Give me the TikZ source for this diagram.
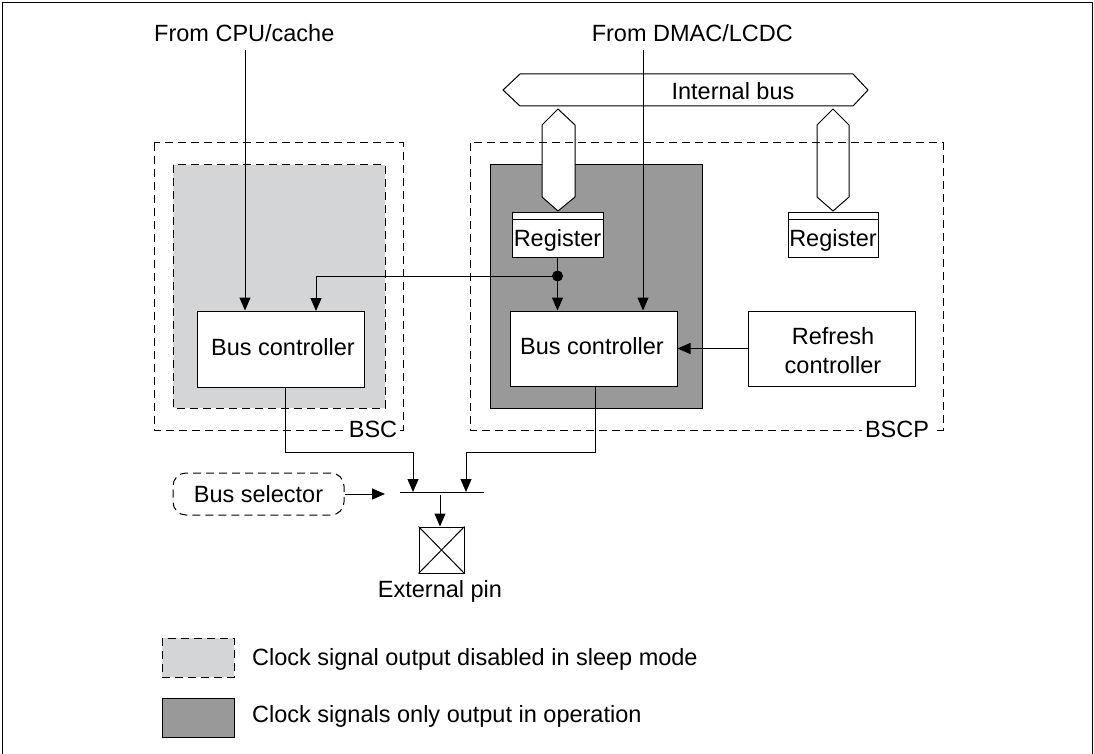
\documentclass[tikz,border=0pt]{standalone}
\usepackage{fontspec}
\setmainfont{Liberation Sans}
\usetikzlibrary{arrows.meta}
\definecolor{lightg}{HTML}{D4D5D7}
\definecolor{darkg}{HTML}{999999}
\begin{document}
\begin{tikzpicture}[x=1pt,y=-1pt,
  every node/.style={font=\fontsize{23.5pt}{28pt}\selectfont, inner sep=0pt},
  ln/.style={line width=1pt},
  arr/.style={line width=1pt, -{Triangle[length=13pt,width=11pt]}},
  dsh/.style={line width=1pt, dash pattern=on 8pt off 5pt},
  box/.style={draw, line width=1pt, fill=white, inner sep=0pt},
  txt/.style={anchor=base, inner sep=0pt},
  busshape/.style={draw, line width=1pt, fill=white, line join=miter}]
\useasboundingbox (0,0) rectangle (1094,754);
\draw[line width=1.5pt] (2.5,754) -- (2.5,2.5) -- (1092.5,2.5) -- (1092.5,754);

% BSC
\draw[dsh] (154,143) rectangle (403,430);
\draw[dsh, fill=lightg] (173,165) rectangle (385,408);
% BSCP dark area
\draw[ln, fill=darkg] (490,165) rectangle (702,408);

% internal bus
\draw[busshape] (503,90) -- (520,74) -- (853,74) -- (868,90) -- (853,106) -- (520,106) -- cycle;
\node[txt] (ibus) at (733,100) {Internal bus};
\draw[busshape] (558,109) -- (575,125) -- (575,197) -- (558,211) -- (542,197) -- (542,125) -- cycle;
\draw[busshape] (833,109) -- (849,125) -- (849,197) -- (833,211) -- (817,197) -- (817,125) -- cycle;

% BSCP outline
\draw[dsh] (470,143) rectangle (943,430);

% registers
\node[box, minimum width=91pt, minimum height=45pt] (reg1) at (557.5,234.5) {};
\draw[ln] ([yshift=-8pt]reg1.north west) -- ([yshift=-8pt]reg1.north east);
\node[txt] (reg1t) at (557.5,246) {Register};
\node[box, minimum width=90pt, minimum height=45pt] (reg2) at (833,234.5) {};
\draw[ln] ([yshift=-8pt]reg2.north west) -- ([yshift=-8pt]reg2.north east);
\node[txt] (reg2t) at (833,246) {Register};

% controllers
\node[box, minimum width=167pt, minimum height=76pt] (bc1) at (280.5,349) {};
\node[txt] (bc1t) at (283,355) {Bus controller};
\node[box, minimum width=167pt, minimum height=75pt] (bc2) at (593.5,348.5) {};
\node[txt] (bc2t) at (592,354) {Bus controller};
\node[box, minimum width=167pt, minimum height=75pt] (rc) at (831.5,348.5) {};
\node[txt] (rct1) at (833,344) {Refresh};
\node[txt] (rct2) at (833,373) {controller};

% labels
\node[txt, fill=white, inner xsep=3pt] (bsclbl) at (373,437) {BSC};
\node[txt, fill=white, inner xsep=3pt] (bscplbl) at (897,437) {BSCP};

% sources
\node[anchor=base west] (cpu) at (154,42) {From CPU/cache};
\node[anchor=base east] (dmac) at (793,42) {From DMAC/LCDC};
\coordinate (cpuin) at (245,50);
\draw[arr] (cpuin) -- (cpuin |- bc1.north);
\coordinate (dmain) at (643,50);
\draw[arr] (dmain) -- (dmain |- bc2.north);

% register distribution
\coordinate (dot) at (557.5,276);
\coordinate (bc1in) at (316,311);
\draw[ln] (reg1.south) -- (dot);
\draw[arr] (dot) -- (dot |- bc2.north);
\draw[arr] (dot) -| (bc1in);
\fill (dot) circle (5.5pt);
\draw[arr] (rc.west) -- (bc2.east);

% outputs
\coordinate (j1) at (413,452);
\coordinate (j2) at (466,452);
\coordinate (barL) at (400,492);
\coordinate (barR) at (484,492);
\draw[arr] ([xshift=4.5pt]bc1.south) |- (j1) -- (j1 |- barL);
\draw[arr] ([xshift=1.5pt]bc2.south) |- (j2) -- (j2 |- barL);
\draw[ln] (barL) -- (barR);

% bus selector
\node[draw, dsh, rounded corners=13pt, minimum width=171pt, minimum height=42pt] (bsel) at (258.5,494) {Bus selector};
\coordinate (selin) at (385,494);
\draw[arr] (bsel.east) -- (selin);

% external pin
\node[box, minimum width=45pt, minimum height=46pt] (pin) at (441.5,550) {};
\draw[ln] (pin.north west) -- (pin.south east) (pin.north east) -- (pin.south west);
\coordinate (pinin) at (440,495);
\draw[arr] (pinin) -- (pinin |- pin.north);
\node[txt] (pint) at (440,597) {External pin};

% legend
\draw[dsh, fill=lightg] (162,638) rectangle (234,677);
\draw[ln, fill=darkg] (162,698) rectangle (234,737);
\node[anchor=base west] (leg1) at (252,665) {Clock signal output disabled in sleep mode};
\node[anchor=base west] (leg2) at (252,722) {Clock signals only output in operation};
\end{tikzpicture}
\end{document}
